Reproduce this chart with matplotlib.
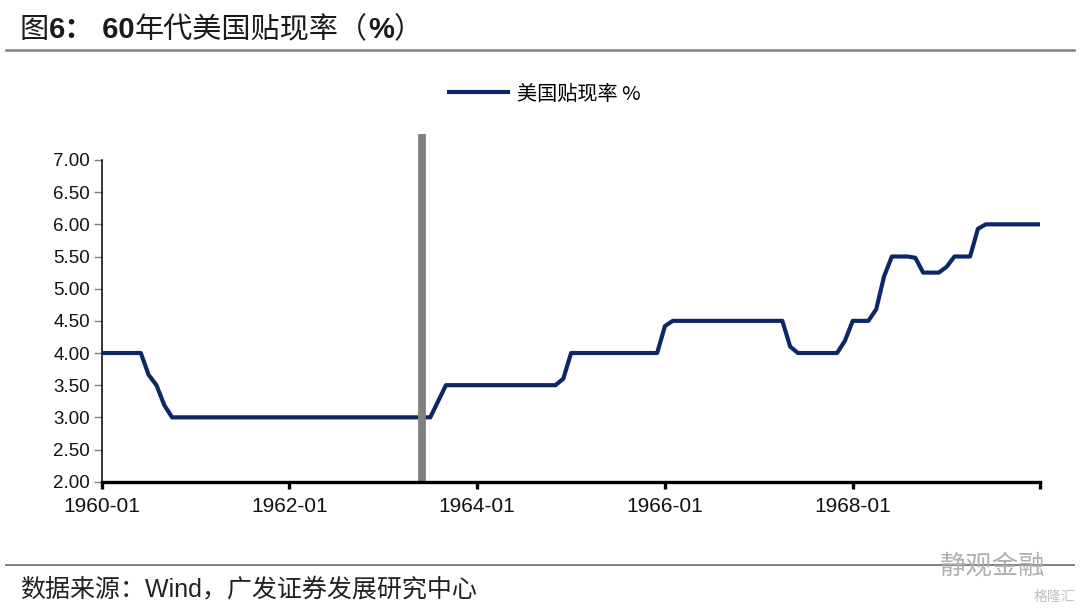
import matplotlib
matplotlib.use("Agg")
import matplotlib.pyplot as plt
from matplotlib.lines import Line2D

plt.rcParams['font.family'] = ['Liberation Sans', 'Noto Sans CJK SC', 'DejaVu Sans']

# ---- data (monthly, 1960-01 .. 1970-01) ----
rate = (
    [4.0] * 6 + [3.66, 3.5, 3.19] + [3.0] * 34 + [3.25] + [3.5] * 15 + [3.6]
    + [4.0] * 12 + [4.42] + [4.5] * 15 + [4.1] + [4.0] * 6 + [4.19]
    + [4.5] * 3 + [4.68, 5.19] + [5.5] * 3 + [5.48] + [5.25] * 3 + [5.34]
    + [5.5] * 3 + [5.93] + [6.0] * 8
)
months = list(range(len(rate)))
tick_pos = [0, 24, 48, 72, 96, 120]
tick_labels = ['1960-01', '1962-01', '1964-01', '1966-01', '1968-01', '']
y_ticks = [2.0, 2.5, 3.0, 3.5, 4.0, 4.5, 5.0, 5.5, 6.0, 6.5, 7.0]
marker_month = 41          # 1963-06 event marker
marker_top = 7.4
series_name = '美国贴现率 %'
title_parts = [('图', 'normal'), ('6：', 'bold'), (' 60', 'bold'),
               ('年代美国贴现率（', 'normal'), ('%', 'bold'), ('）', 'normal')]
source = '数据来源：Wind，广发证券发展研究中心'

fig = plt.figure(figsize=(10.8, 6.12), dpi=100)
ax = fig.add_axes([101.7 / 1080, 1 - 481.7 / 612, (1040.5 - 101.7) / 1080, 321.7 / 612])

line_color = '#0B2865'
ax.plot(months, rate, color=line_color, lw=3.0, solid_joinstyle='round', zorder=3)
ax.plot([marker_month, marker_month], [2.0, marker_top], color='#808080', lw=5.6,
        solid_capstyle='butt', clip_on=False, zorder=4)

ax.set_xlim(0, 120)
ax.set_ylim(2.0, 7.0)
ax.set_xticks(tick_pos)
ax.set_xticklabels(tick_labels, fontsize=15, color='#111111')
ax.set_yticks(y_ticks)
ax.set_yticklabels([f'{v:.2f}' for v in y_ticks], fontsize=13.5, color='#111111')

for s in ['top', 'right']:
    ax.spines[s].set_visible(False)
ax.spines['left'].set_linewidth(1.1)
ax.spines['left'].set_color('black')
ax.spines['bottom'].set_linewidth(2.4)
ax.spines['bottom'].set_color('black')
ax.spines['bottom'].set_zorder(5)
ax.tick_params(axis='y', direction='out', length=5.5, width=1.0, color='#808080', pad=3)
ax.tick_params(axis='x', direction='out', length=5.0, width=2.4, color='black', pad=6)

handle = Line2D([], [], color=line_color, lw=3.0)
fig.legend([handle], [series_name], loc='center', bbox_to_anchor=(545 / 1080, 1 - 94 / 612),
           frameon=False, handlelength=2.9, handletextpad=0.45,
           prop={'family': ['Noto Sans CJK SC', 'DejaVu Sans'], 'size': 14.5})

# title (mixed weights), laid out piece by piece
fam = ['Liberation Sans', 'Noto Sans CJK SC']
fig.canvas.draw()
r = fig.canvas.get_renderer()
x_px = 20.0
for txt, w in title_parts:
    t = fig.text(x_px / 1080, 1 - 30 / 612, txt, fontsize=21, fontweight=w, color='#1a1a1a',
                 ha='left', va='center', family=fam)
    x_px += t.get_window_extent(renderer=r).width

fig.add_artist(Line2D([6 / 1080, 1074 / 1080], [1 - 50 / 612, 1 - 50 / 612],
                      color='#808080', lw=1.8, transform=fig.transFigure))
fig.add_artist(Line2D([6 / 1080, 1074 / 1080], [1 - 565 / 612, 1 - 565 / 612],
                      color='#808080', lw=1.4, transform=fig.transFigure))
fig.text(20 / 1080, 1 - 589 / 612, source, fontsize=18, color='#222222',
         ha='left', va='center', family=fam)

# watermark
fig.text(1045 / 1080, 1 - 566 / 612, '静观金融', fontsize=19, color='#b0b0b0',
         ha='right', va='center', family=['Noto Sans CJK SC'])
fig.text(1075 / 1080, 1 - 597 / 612, '格隆汇', fontsize=10, color='#c0c0c0',
         ha='right', va='center', family=['Noto Sans CJK SC'])

fig.savefig('out.png', dpi=100)
